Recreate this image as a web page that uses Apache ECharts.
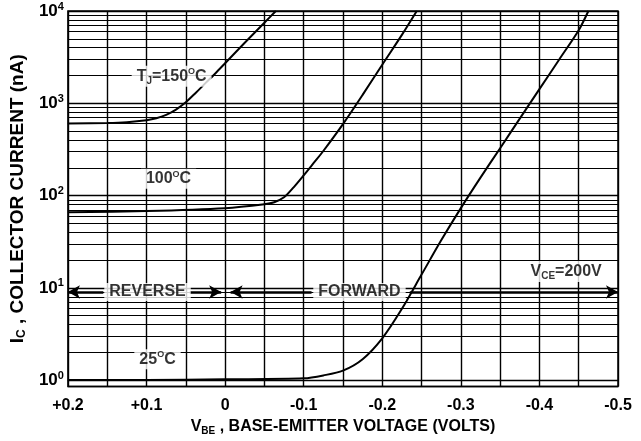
<!DOCTYPE html>
<html>
<head>
<meta charset="utf-8">
<script src="https://cdn.jsdelivr.net/npm/echarts@6/dist/echarts.min.js"></script>
<style>
html,body{margin:0;padding:0;background:#fff;}
#chart{width:641px;height:441px;}
</style>
</head>
<body>
<div id="chart"></div>
<script>
// ---- data ----
const xTickValues = [0.2, 0.1, 0, -0.1, -0.2, -0.3, -0.4, -0.5];
const xTickLabels = ['+0.2', '+0.1', '0', '-0.1', '-0.2', '-0.3', '-0.4', '-0.5'];
const yTickExponents = [0, 1, 2, 3, 4];

const v150 = [0.2, 0.15, 0.125, 0.1, 0.0875, 0.075, 0.0625, 0.05, 0.0375, 0.025, 0.0125, 0, -0.025, -0.05, -0.0646];
const i150 = [605, 612, 624, 655, 687, 748, 855, 1026, 1294, 1652, 2104, 2716, 4530, 7460, 10000];

const v100 = [0.2, 0.1, 0, -0.05, -0.0625, -0.075, -0.0875, -0.1, -0.1125, -0.125, -0.15, -0.175, -0.2, -0.225, -0.2439];
const i100 = [66, 68, 73, 80.6, 84.7, 95.7, 123.6, 165.4, 224, 304, 594, 1233, 2620, 5510, 10000];

const v25 = [0.2, 0.1, 0, -0.1, -0.125, -0.15, -0.175, -0.2, -0.225, -0.25, -0.275, -0.3, -0.325, -0.35, -0.375, -0.4, -0.425, -0.45, -0.4623];
const i25 = [1.0, 1.0, 1.02, 1.045, 1.124, 1.267, 1.685, 2.837, 5.92, 13.9, 32.7, 73.1, 156.3, 326, 681, 1422, 2966, 6190, 10000];

const minorMultipliers = [2, 3, 4, 5, 6, 7, 8, 9];
const minorDecades = [1, 10, 100, 1000];

const annotTexts = ['{t|T}{sub|J}{t|=150}{sup|O}{t|C}', '{t|100}{sup|O}{t|C}', '{t|25}{sup|O}{t|C}', '{t|REVERSE}', '{t|FORWARD}', '{t|V}{sub|CE}{t|=200V}'];
const annotV = [0.068, 0.072, 0.086, 0.0987, -0.171, -0.434];
const annotI = [1960, 152, 1.68, 9.0, 9.0, 15.0];

const arrowLevel = 9.0;
const arrowSegments = [[0.155, 0.2], [0.045, 0.005], [-0.11, -0.007], [-0.235, -0.5]];

// ---- build ----
const FONT = "'Liberation Sans', Arial, sans-serif";
const xLabelMap = {};
xTickValues.forEach((v, k) => { xLabelMap[v.toFixed(1)] = xTickLabels[k]; });

const zip = (xs, ys) => xs.map((x, k) => [x, ys[k]]);

const minorLines = [];
minorDecades.forEach(d => minorMultipliers.forEach(m => minorLines.push({ yAxis: m * d })));

const mkRich = (size, subSize, supSize) => ({
  t: { fontFamily: FONT, fontWeight: 'bold', fontSize: size, color: '#000' },
  sub: { fontFamily: FONT, fontWeight: 'bold', fontSize: subSize, color: '#000', padding: [9, 0, 0, 0] },
  sup: { fontFamily: FONT, fontWeight: 'bold', fontSize: supSize, color: '#000', padding: [0, 0, 9, 0] }
});

const chart = echarts.init(document.getElementById('chart'), null, { renderer: 'canvas' });
const lineStyleCurve = { color: '#000', width: 2 };

chart.setOption({
  backgroundColor: '#fff',
  animation: false,
  grid: { left: 65, right: 23, top: 11, bottom: 45, show: true, borderColor: '#000', borderWidth: 1.5, backgroundColor: 'transparent' },
  xAxis: {
    type: 'value', min: -0.5, max: 0.2, interval: 0.1, inverse: true,
    axisLine: { show: false }, axisTick: { show: false },
    splitLine: { show: true, lineStyle: { color: '#000', width: 1.4 } },
    minorTick: { show: false, splitNumber: 2 },
    minorSplitLine: { show: true, lineStyle: { color: '#000', width: 1.4 } },
    axisLabel: {
      margin: 11, color: '#000', fontFamily: FONT, fontWeight: 'bold', fontSize: 16,
      formatter: v => { const k = (Math.abs(v) < 1e-9 ? 0 : v).toFixed(1); return xLabelMap[k] !== undefined ? xLabelMap[k] : ''; }
    },
    name: '{t|V}{sub|BE}{t| , BASE-EMITTER VOLTAGE (VOLTS)}',
    nameLocation: 'middle', nameGap: 26,
    nameTextStyle: { rich: mkRich(16, 10, 9) }
  },
  yAxis: {
    type: 'log', logBase: 10, min: 0.85, max: 10000,
    axisLine: { show: false }, axisTick: { show: false },
    splitLine: { show: true, lineStyle: { color: '#000', width: 1.4 } },
    axisLabel: {
      margin: 4, color: '#000',
      formatter: v => {
        const e = Math.log10(v); const r = Math.round(e);
        if (Math.abs(e - r) > 1e-6 || yTickExponents.indexOf(r) < 0) return '';
        return '{t|10}{sup|' + r + '}';
      },
      rich: {
        t: { fontFamily: FONT, fontWeight: 'bold', fontSize: 17, color: '#000' },
        sup: { fontFamily: FONT, fontWeight: 'bold', fontSize: 11, color: '#000', padding: [0, 0, 9, 0] }
      }
    },
    name: '{t|I}{sub|C}{t| , COLLECTOR CURRENT (nA)}',
    nameLocation: 'middle', nameGap: 30, nameRotate: 90,
    nameTextStyle: { rich: mkRich(19, 12, 9) }
  },
  series: [
    {
      type: 'line', data: [[0, 1]], symbol: 'none', lineStyle: { opacity: 0 }, silent: true,
      markLine: {
        silent: true, symbol: 'none', animation: false,
        label: { show: false },
        lineStyle: { color: '#000', width: 1.2, type: 'solid' },
        data: minorLines
      }
    },
    { name: '150', type: 'line', data: zip(v150, i150), symbol: 'none', smooth: 0.3, lineStyle: lineStyleCurve, z: 3 },
    { name: '100', type: 'line', data: zip(v100, i100), symbol: 'none', smooth: 0.3, lineStyle: lineStyleCurve, z: 3 },
    { name: '25', type: 'line', data: zip(v25, i25), symbol: 'none', smooth: 0.3, lineStyle: lineStyleCurve, z: 3 },
    {
      type: 'line', data: [], symbol: 'none', silent: true, z: 4,
      markLine: {
        silent: true, animation: false,
        symbol: ['none', 'arrow'], symbolSize: [10, 12],
        label: { show: false },
        lineStyle: { color: '#000', width: 2.5, type: 'solid' },
        data: arrowSegments.map(s => [{ coord: [s[0], arrowLevel] }, { coord: [s[1], arrowLevel] }])
      }
    },
    {
      type: 'scatter', symbolSize: 0, silent: true, z: 5,
      data: annotV.map((v, k) => ({ value: [v, annotI[k]], label: { formatter: annotTexts[k] } })),
      label: {
        show: true, position: 'inside', backgroundColor: '#fff', padding: [1, 5, 1, 5],
        rich: mkRich(16, 10, 9)
      }
    }
  ]
});
</script>
</body>
</html>
